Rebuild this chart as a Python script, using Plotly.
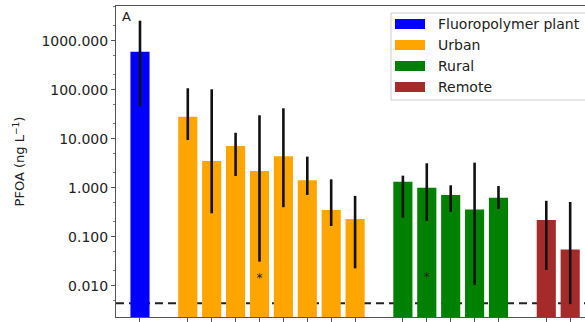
import plotly.graph_objects as go

# ---- data ----
groups = ["Fluoropolymer plant", "Urban", "Rural", "Remote"]
colors = ["#0000ff", "#ffa500", "#008000", "#a52a2a"]

plant_vals = [597]
plant_hi = [2560]
plant_lo = [46]

urban_vals = [28.1, 3.5, 7.1, 2.19, 4.4, 1.42, 0.35, 0.23]
urban_hi = [107, 102, 13.2, 30, 41.7, 4.3, 1.48, 0.68]
urban_lo = [9.4, 0.30, 1.73, 0.031, 0.40, 0.71, 0.165, 0.0226]

rural_vals = [1.32, 1.0, 0.71, 0.36, 0.625]
rural_hi = [1.76, 3.15, 1.12, 3.24, 1.08]
rural_lo = [0.244, 0.209, 0.32, 0.0103, 0.367]

remote_vals = [0.22, 0.055]
remote_hi = [0.54, 0.51]
remote_lo = [0.021, 0.0042]

detection_limit = 0.0044
# asterisk markers: (group index, bar index within group, y value)
asterisks = [(1, 3, 0.0135), (2, 1, 0.0142)]

y_tick_vals = [0.01, 0.1, 1, 10, 100, 1000]
y_tick_text = ["0.010", "0.100", "1.000", "10.000", "100.000", "1000.000"]

series = [
    (plant_vals, plant_hi, plant_lo),
    (urban_vals, urban_hi, urban_lo),
    (rural_vals, rural_hi, rural_lo),
    (remote_vals, remote_hi, remote_lo),
]

W, H = 585, 322
ML, MR, MT, MB = 116, 0, 6, 5

fig = go.Figure()
pos = 0
all_x = []
group_x = []
for gi, (vals, hi, lo) in enumerate(series):
    xs = list(range(pos, pos + len(vals)))
    group_x.append(xs)
    all_x += xs
    pos += len(vals) + 1
    fig.add_trace(go.Bar(
        x=xs, y=vals, name=groups[gi], width=0.8,
        marker=dict(color=colors[gi], line=dict(width=0)),
        error_y=dict(type="data", symmetric=False,
                     array=[h - v for h, v in zip(hi, vals)],
                     arrayminus=[v - l for v, l in zip(vals, lo)],
                     color="#111111", thickness=2.6, width=0),
        showlegend=False,
    ))

fig.add_trace(go.Scatter(
    x=[group_x[g][i] for g, i, _ in asterisks],
    y=[y for _, _, y in asterisks],
    mode="text", text=["*"] * len(asterisks),
    textfont=dict(size=12, color="#222222", family="DejaVu Sans"),
    showlegend=False,
))

fig.add_shape(type="line", xref="paper", x0=0, x1=1, yref="y",
              y0=detection_limit, y1=detection_limit,
              line=dict(color="#222222", width=2, dash="8px,5px"), layer="below")

# manual legend (matplotlib style)
plot_w = W - ML - MR
plot_h = H - MT - MB
def px_x(p):
    return (p - ML) / plot_w
def px_y(p):
    return (H - MB - p) / plot_h

fig.add_shape(type="rect", xref="paper", yref="paper",
              x0=px_x(391), x1=px_x(600), y0=px_y(100), y1=px_y(13),
              line=dict(color="#cccccc", width=1), fillcolor="rgba(255,255,255,0.9)")
row_y = [24, 45, 66, 87]
for gi, name in enumerate(groups):
    fig.add_shape(type="rect", xref="paper", yref="paper",
                  x0=px_x(395), x1=px_x(425),
                  y0=px_y(row_y[gi] + 5), y1=px_y(row_y[gi] - 5),
                  line=dict(width=0), fillcolor=colors[gi])
    fig.add_annotation(xref="paper", yref="paper", x=px_x(436), y=px_y(row_y[gi]),
                       text=name, showarrow=False, xanchor="left", yanchor="middle",
                       font=dict(size=14, color="#222222", family="DejaVu Sans"))

fig.add_annotation(xref="paper", yref="paper", x=px_x(120), y=px_y(17),
                   text="A", showarrow=False, xanchor="left", yanchor="middle",
                   font=dict(size=13, color="#222222", family="DejaVu Sans"))

fig.update_layout(
    width=W, height=H, margin=dict(l=ML, r=MR, t=MT, b=MB),
    paper_bgcolor="white", plot_bgcolor="white",
    font=dict(family="DejaVu Sans", color="#222222"),
    bargap=0.2,
)
fig.update_xaxes(range=[-1.004, 18.62], showgrid=False, zeroline=False,
                 showline=True, mirror=True, linecolor="#555555", linewidth=1,
                 tickvals=all_x,
                 ticks="outside", ticklen=4, tickcolor="#555555",
                 showticklabels=False)
fig.update_yaxes(type="log", range=[-2.639, 3.708], showgrid=False, zeroline=False,
                 showline=True, mirror=False, linecolor="#555555", linewidth=1,
                 tickvals=y_tick_vals, ticktext=y_tick_text,
                 ticks="outside", ticklen=4, tickcolor="#555555",
                 tickfont=dict(size=14, color="#222222"),
                 minor=dict(ticks="outside", ticklen=2, tickcolor="#777777", showgrid=False),
                 title=dict(text="PFOA (ng L<sup>−1</sup>)", font=dict(size=13), standoff=13))

fig.write_html("out.html")
